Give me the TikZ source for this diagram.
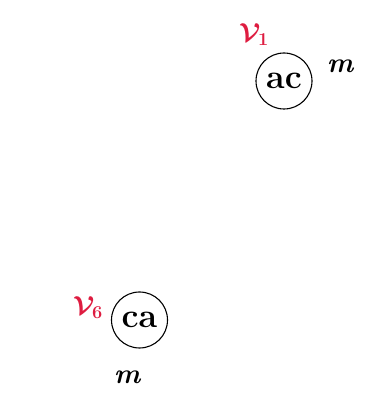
\RequirePackage{fix-cm}
\documentclass[tikz,border=0pt]{standalone}
\definecolor{vred}{RGB}{222,28,64}
\tikzset{
  state/.style={circle,draw,line width=1.1pt,minimum size=56pt,inner sep=0pt,font=\fontsize{34}{36}\selectfont\bfseries},
  vlab/.style={text=vred,inner sep=0pt,font=\fontsize{26}{28}\selectfont\boldmath},
  mlab/.style={font=\fontsize{28}{30}\selectfont\bfseries\itshape}
}
\begin{document}
\begin{tikzpicture}[x=1pt,y=1pt]
\useasboundingbox (0,0) rectangle (374,402);
\node[state] (ac) at (284,321) {ac};
\node[state] (ca) at (139.5,82) {ca};
\node[vlab] (v1) at (254,367) {$\mathcal{V}_{1}$};
\node[vlab] (v6) at (88,94) {$\mathcal{V}_{6}$};
\node[mlab] (m1) at (340,336) {m};
\node[mlab] (m6) at (127,25) {m};
\end{tikzpicture}
\end{document}
